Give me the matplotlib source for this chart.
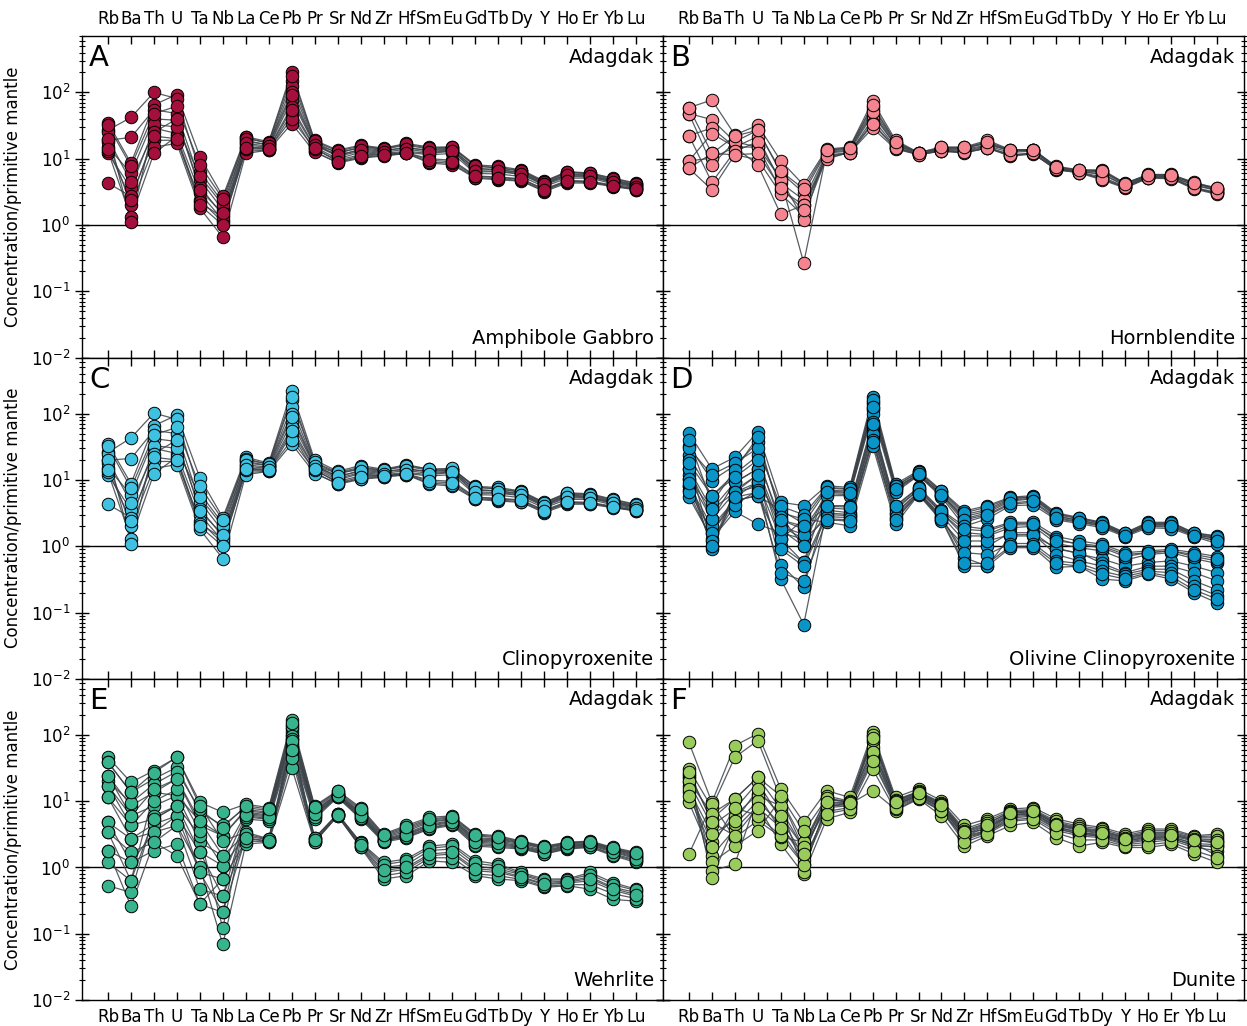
import numpy as np
import matplotlib
matplotlib.use('Agg')
import matplotlib.pyplot as plt
from matplotlib.ticker import LogLocator, NullFormatter

elements = ['Rb', 'Ba', 'Th', 'U', 'Ta', 'Nb', 'La', 'Ce', 'Pb', 'Pr', 'Sr', 'Nd',
            'Zr', 'Hf', 'Sm', 'Eu', 'Gd', 'Tb', 'Dy', 'Y', 'Ho', 'Er', 'Yb', 'Lu']

# Panel A: Amphibole Gabbro
amph_gabbro = [
    [35, 8.6, 65, 93, 10.8, 2.7, 21.6, 18, 205, 19, 13.5, 16, 14.5, 17, 15, 15, 8.1, 7.7, 6.8, 4.6, 6.4, 6.1, 5.1, 4.3],
    [27, 42, 100, 81, 6.4, 2.2, 21, 17, 150, 18, 12, 15, 14, 16, 14, 14.5, 7.8, 7.2, 6.5, 4.4, 6.2, 5.9, 4.8, 4.1],
    [19, 21, 55, 48, 4.8, 1.7, 19, 16, 124, 17, 11, 14, 13, 15, 13, 13.5, 7.2, 6.8, 6.1, 4.2, 5.8, 5.5, 4.6, 3.9],
    [15, 6, 40, 38, 3.8, 1.4, 16, 15, 77, 16, 10.9, 13, 12, 13, 12, 13, 6.3, 6.4, 5.8, 4.0, 5.4, 5.3, 4.4, 3.7],
    [12, 3.6, 29, 24, 3, 1.2, 15, 14.5, 61, 15, 10, 12.5, 11.5, 12.5, 11.5, 12, 6.0, 5.9, 5.4, 3.8, 5.1, 5.1, 4.2, 3.6],
    [4.3, 2.7, 19, 19, 2.4, 1.1, 13, 13.5, 48, 13, 8.6, 10.2, 11, 12, 8.6, 8.1, 5.1, 4.8, 4.6, 3.2, 4.3, 4.3, 3.8, 3.4],
    [18, 2, 15, 17, 1.8, 0.65, 12, 13.5, 34, 12.5, 8.8, 10.5, 11.2, 12, 9, 8.5, 5.2, 5.0, 4.7, 3.3, 4.5, 4.4, 3.9, 3.4],
    [13, 1.3, 12, 22, 2.2, 1.3, 14, 14, 40, 14, 9.5, 11.5, 11.8, 12.3, 10, 9.5, 5.5, 5.3, 5.0, 3.5, 4.7, 4.6, 4.0, 3.5],
    [25, 1.1, 33, 30, 5.5, 2.0, 18, 16.5, 100, 16.5, 12.5, 14.5, 13.5, 14.5, 13.5, 14, 7.0, 6.9, 6.2, 4.3, 5.9, 5.7, 4.7, 4.0],
    [32, 7.7, 48, 62, 8, 2.5, 20, 17.5, 180, 18.5, 13, 15.5, 14.2, 16.5, 14.5, 15, 7.7, 7.4, 6.6, 4.5, 6.3, 6.0, 5.0, 4.2],
    [20, 4.5, 25, 40, 3.4, 1.5, 17, 15.5, 90, 16, 11.5, 13.5, 12.5, 14, 12.5, 13.2, 6.6, 6.5, 5.9, 4.1, 5.6, 5.4, 4.5, 3.8],
    [14, 2.4, 22, 20, 2.0, 1.0, 14.5, 14.2, 55, 14.5, 9, 11, 11.5, 12.2, 9.5, 9, 5.4, 5.2, 4.9, 3.4, 4.6, 4.5, 3.9, 3.5],
]

# Panel B: Hornblendite
hornblendite = [
    [59, 77, 22.9, 32, 9.3, 4, 14, 15, 74, 19, 12.4, 15, 15, 19, 13.7, 13.7, 7.7, 6.8, 6.8, 4.3, 5.8, 5.8, 4.4, 3.6],
    [48, 39, 18, 27, 6.2, 3.05, 13, 14, 54, 17, 12, 14.5, 14.5, 17, 13, 13.5, 7.3, 6.6, 6.3, 4.1, 5.6, 5.6, 4.2, 3.5],
    [22.4, 29, 15, 21.6, 4.3, 2.4, 12.2, 13, 46, 16, 12.4, 14, 14, 16, 13.5, 13.7, 7.0, 6.5, 5.8, 4.0, 5.5, 5.4, 4.0, 3.4],
    [9.3, 24, 15, 15, 3.4, 2.0, 11.5, 12.2, 40, 15, 11.8, 13, 12.5, 14.5, 11.5, 12, 6.8, 6.2, 5.0, 3.7, 5.2, 5.2, 3.6, 3.0],
    [7.2, 12, 11.5, 9.7, 2.95, 1.36, 10.5, 12.2, 29, 14, 11.5, 13, 12.2, 14.5, 10.9, 11.8, 6.9, 6.1, 4.8, 3.6, 5.1, 5.0, 3.5, 2.9],
    [9.3, 10.2, 15, 8.1, 1.45, 2.0, 9.9, 12.5, 35, 14.5, 11.8, 13.5, 13, 15, 11.5, 12, 7.1, 6.3, 5.3, 3.8, 5.3, 5.3, 3.7, 3.1],
    [48, 8.1, 18, 15, 5.0, 1.2, 13.5, 14.5, 60, 17.5, 12.2, 14.5, 14.5, 17.5, 13.2, 13.5, 7.4, 6.7, 6.5, 4.2, 5.7, 5.7, 4.3, 3.5],
    [22.4, 4.4, 13, 18, 4.8, 0.27, 12.5, 13.5, 50, 16, 11.8, 13.8, 13.5, 15.5, 12.5, 13, 7.1, 6.4, 5.9, 3.9, 5.4, 5.4, 4.0, 3.3],
    [7.2, 3.4, 11.5, 12, 3.6, 1.7, 11, 12.2, 33, 14.5, 11.5, 13.2, 12.5, 14.5, 11.2, 12, 6.9, 6.2, 5.0, 3.7, 5.2, 5.1, 3.6, 3.0],
    [59, 12, 22, 27, 6.5, 3.5, 13.5, 14.5, 65, 18, 12.4, 14.8, 14.8, 18, 13.5, 13.7, 7.5, 6.7, 6.6, 4.2, 5.7, 5.7, 4.3, 3.6],
]

# Panel C: Clinopyroxenite
clinopyroxenite = [
    [35, 8.8, 66, 95, 10.8, 2.7, 22, 18, 220, 20, 13.5, 16.5, 14.5, 17, 14.5, 14.5, 8.0, 7.7, 6.8, 4.6, 6.4, 6.2, 5.1, 4.3],
    [26, 43, 102, 82, 6.3, 2.2, 21, 17, 160, 18, 12.5, 15, 14, 16, 14, 14, 7.8, 7.3, 6.5, 4.4, 6.1, 5.9, 4.8, 4.1],
    [20, 21, 56, 50, 4.7, 1.7, 19, 16.5, 125, 17, 11, 14, 13, 15, 13, 13.5, 7.2, 6.8, 6.1, 4.2, 5.8, 5.5, 4.6, 3.9],
    [15, 6, 42, 38, 3.7, 1.4, 16, 15, 75, 16, 10.5, 13, 12, 13, 12, 13, 6.3, 6.3, 5.8, 4.0, 5.4, 5.3, 4.4, 3.7],
    [12, 3.5, 30, 25, 3, 1.2, 15, 14.5, 62, 15, 10, 12.5, 11.5, 12.5, 11.5, 12, 6.0, 5.9, 5.4, 3.8, 5.1, 5.1, 4.2, 3.6],
    [4.3, 2.7, 19, 19, 2.4, 1.1, 13, 13.5, 50, 13, 8.6, 10.2, 11, 12, 8.6, 8.1, 5.1, 4.8, 4.6, 3.2, 4.3, 4.3, 3.8, 3.4],
    [18, 2, 15, 17, 1.8, 0.65, 12, 13.5, 35, 12.5, 8.8, 10.5, 11.2, 12, 9, 8.5, 5.2, 5.0, 4.7, 3.3, 4.5, 4.4, 3.9, 3.4],
    [13, 1.3, 12.5, 22, 2.2, 1.3, 14, 14, 40, 14, 9.5, 11.5, 11.8, 12.3, 10, 9.5, 5.5, 5.3, 5.0, 3.5, 4.7, 4.6, 4.0, 3.5],
    [25, 1.1, 33, 30, 5.5, 2.0, 18, 16.5, 100, 16.5, 12.5, 14.5, 13.5, 14.5, 13.5, 14, 7.0, 6.9, 6.2, 4.3, 5.9, 5.7, 4.7, 4.0],
    [32, 7.5, 48, 62, 8, 2.5, 20, 17.5, 180, 18.5, 13, 15.5, 14.2, 16.5, 14.5, 15, 7.7, 7.4, 6.6, 4.5, 6.3, 6.0, 5.0, 4.2],
    [20, 4.5, 25, 40, 3.4, 1.5, 17, 15.5, 90, 16, 11.5, 13.5, 12.5, 14, 12.5, 13.2, 6.6, 6.5, 5.9, 4.1, 5.6, 5.4, 4.5, 3.8],
    [14, 2.4, 22, 20, 2.0, 1.0, 14.5, 14.2, 55, 14.5, 9, 11, 11.5, 12.2, 9.5, 9, 5.4, 5.2, 4.9, 3.4, 4.6, 4.5, 3.9, 3.5],
]

# Panel D: Olivine Clinopyroxenite
ol_clinopyroxenite = [
    [51, 14.7, 22, 53, 4.6, 4.1, 8.2, 7.7, 180, 8.7, 13.8, 6.9, 3.4, 4.1, 5.5, 5.8, 3.2, 2.7, 2.3, 1.6, 2.3, 2.3, 1.6, 1.43],
    [33, 9.8, 16.5, 37, 3.2, 2.56, 7.5, 7.2, 150, 8.2, 13, 6.5, 3.0, 3.6, 5.2, 5.5, 3.0, 2.6, 2.2, 1.55, 2.2, 2.2, 1.55, 1.35],
    [23.4, 5.8, 12.3, 23.4, 2.03, 1.28, 6.8, 6.5, 120, 7.7, 12, 6.2, 2.6, 3.2, 4.8, 5.2, 2.8, 2.5, 2.1, 1.5, 2.1, 2.1, 1.5, 1.3],
    [14.7, 3.6, 9.2, 14.7, 1.28, 0.57, 6.2, 6.0, 112, 7.0, 11.7, 5.8, 2.3, 2.9, 4.3, 4.6, 2.6, 2.3, 2.0, 1.45, 2.0, 1.95, 1.45, 1.2],
    [10.4, 2.56, 6.5, 9.2, 2.5, 1.8, 5.8, 5.8, 100, 6.5, 11.7, 5.5, 2.0, 2.6, 4.1, 4.2, 2.5, 2.2, 1.9, 1.4, 1.9, 1.85, 1.4, 1.1],
    [8.2, 1.6, 4.9, 5.8, 3.5, 2.2, 7.0, 6.8, 140, 7.5, 12.5, 6.0, 2.8, 3.4, 5.0, 5.3, 2.9, 2.4, 2.15, 1.5, 2.15, 2.1, 1.5, 1.3],
    [30, 12, 18, 30, 4.0, 3.0, 7.8, 7.3, 160, 8.0, 13.3, 6.7, 3.2, 3.9, 5.3, 5.6, 3.1, 2.65, 2.25, 1.58, 2.25, 2.25, 1.58, 1.4],
    [40, 4.5, 14, 45, 2.8, 1.0, 6.5, 6.3, 125, 7.2, 12.2, 6.0, 2.5, 3.0, 4.5, 4.8, 2.7, 2.35, 2.05, 1.45, 2.05, 2.0, 1.45, 1.2],
    [20, 1.0, 7, 12, 0.53, 0.24, 4.1, 4.1, 75, 4.1, 7.7, 3.5, 2.0, 1.8, 2.3, 2.3, 1.4, 1.2, 1.07, 0.8, 0.85, 0.9, 0.8, 0.7],
    [12, 0.9, 6.5, 8, 0.32, 0.066, 3.5, 3.2, 60, 3.5, 7.2, 3.2, 1.43, 1.43, 1.9, 2.0, 1.1, 0.95, 0.85, 0.62, 0.75, 0.8, 0.65, 0.55],
    [8.2, 2.0, 4.9, 5.8, 1.0, 0.57, 3.0, 2.9, 55, 3.05, 6.5, 2.8, 0.67, 0.5, 1.43, 1.43, 0.95, 0.76, 0.64, 0.5, 0.57, 0.6, 0.5, 0.4],
    [5.5, 1.3, 3.35, 2.15, 1.6, 1.28, 2.6, 2.5, 45, 2.6, 6.1, 2.5, 0.5, 0.5, 0.95, 0.95, 0.48, 0.5, 0.32, 0.3, 0.38, 0.32, 0.2, 0.14],
    [14.7, 2.56, 9.2, 14.7, 2.0, 1.5, 3.8, 3.6, 65, 3.8, 7.0, 3.2, 1.6, 1.5, 2.1, 2.1, 1.3, 1.05, 0.95, 0.7, 0.8, 0.85, 0.7, 0.6],
    [7, 1.6, 5.5, 9.2, 1.28, 2.56, 2.3, 2.03, 33, 2.15, 6.0, 2.4, 1.0, 1.0, 1.6, 1.6, 0.9, 0.8, 0.55, 0.4, 0.5, 0.5, 0.4, 0.3],
    [10.4, 3.6, 6.5, 12, 1.8, 1.0, 3.2, 3.0, 50, 3.2, 6.6, 2.9, 1.2, 1.2, 1.5, 1.5, 0.75, 0.6, 0.5, 0.38, 0.45, 0.45, 0.3, 0.22],
    [6.5, 1.2, 4.2, 7, 0.9, 0.5, 2.8, 2.7, 40, 2.8, 6.3, 2.7, 0.8, 0.75, 1.1, 1.1, 0.6, 0.55, 0.42, 0.35, 0.42, 0.4, 0.25, 0.18],
    [18, 5.8, 11, 20, 2.5, 2.0, 4.0, 3.9, 70, 4.0, 7.5, 3.4, 1.8, 1.7, 2.2, 2.2, 1.2, 1.1, 1.0, 0.75, 0.8, 0.85, 0.75, 0.65],
    [9, 1.0, 5.5, 6.5, 0.4, 0.3, 2.5, 2.4, 38, 2.5, 6.2, 2.6, 0.55, 0.55, 1.0, 1.0, 0.55, 0.5, 0.38, 0.32, 0.4, 0.35, 0.22, 0.16],
]

# Panel E: Wehrlite
wehrlite = [
    [46, 19.2, 28.9, 46, 9.6, 6.8, 9, 8, 165, 8.5, 14.4, 8, 3.2, 4.3, 5.7, 6, 3.2, 3, 2.5, 2.1, 2.4, 2.5, 2, 1.69],
    [38.6, 13.6, 21.7, 32.5, 6.8, 4.3, 8, 7.2, 140, 7.8, 13.5, 7.2, 3.0, 3.9, 5.2, 5.6, 3.0, 2.8, 2.4, 2.0, 2.3, 2.4, 1.9, 1.6],
    [24.3, 8.5, 13.6, 21.7, 4.3, 3.0, 7.2, 6.5, 123, 7.0, 12.8, 6.6, 2.8, 3.5, 4.8, 5.3, 2.7, 2.6, 2.3, 1.9, 2.2, 2.3, 1.85, 1.5],
    [17.1, 6, 8.5, 12.1, 2.4, 1.5, 6.5, 6.0, 100, 6.5, 12.2, 6.2, 2.6, 3.2, 4.3, 5.0, 2.5, 2.4, 2.1, 1.75, 2.1, 2.2, 1.75, 1.4],
    [11.4, 4.3, 5.4, 8.5, 1.7, 1.06, 6.0, 5.5, 87, 6.0, 11.8, 5.8, 2.5, 3.0, 4.0, 4.6, 2.3, 2.2, 2.0, 1.65, 2.0, 2.1, 1.6, 1.3],
    [4.8, 2.7, 3.4, 6, 0.84, 0.67, 5.4, 5.0, 65, 5.4, 11.4, 5.4, 2.4, 2.8, 3.8, 4.3, 2.1, 2.0, 1.9, 1.59, 1.9, 2.0, 1.5, 1.19],
    [3.4, 1.7, 2.4, 4.3, 0.47, 0.37, 5.8, 5.3, 75, 5.8, 11.6, 5.6, 2.5, 2.9, 3.9, 4.5, 2.2, 2.1, 1.95, 1.6, 1.95, 2.05, 1.55, 1.25],
    [1.8, 1.19, 1.8, 2.25, 0.28, 0.21, 6.8, 6.2, 110, 6.8, 12.5, 6.4, 2.7, 3.3, 4.5, 5.1, 2.6, 2.5, 2.2, 1.8, 2.15, 2.25, 1.8, 1.45],
    [1.19, 0.63, 13.6, 12.1, 5.0, 3.0, 7.5, 6.8, 130, 7.3, 13.0, 6.8, 2.9, 3.7, 5.0, 5.4, 2.8, 2.7, 2.35, 1.95, 2.3, 2.35, 1.9, 1.55],
    [0.53, 0.42, 6.0, 8.5, 3.0, 0.12, 6.2, 5.8, 95, 6.3, 12.0, 6.0, 2.55, 3.1, 4.2, 4.8, 2.4, 2.3, 2.05, 1.7, 2.05, 2.15, 1.7, 1.35],
    [20, 9.5, 18, 28, 7.5, 4.0, 8.5, 7.6, 150, 8.2, 14, 7.6, 3.1, 4.1, 5.4, 5.8, 3.1, 2.9, 2.45, 2.05, 2.35, 2.45, 1.95, 1.65],
    [38.6, 13.6, 27, 46, 8.5, 2.5, 3.4, 2.7, 87, 2.8, 6.4, 2.4, 1.19, 1.34, 2.1, 2.25, 1.26, 1.12, 0.84, 0.67, 0.67, 0.84, 0.59, 0.47],
    [17.1, 4.3, 10, 15, 3.5, 1.06, 3.0, 2.6, 70, 2.7, 6.3, 2.3, 1.0, 1.1, 1.8, 1.9, 1.05, 0.95, 0.78, 0.6, 0.62, 0.72, 0.5, 0.42],
    [11.4, 2.7, 4.5, 6, 1.7, 0.37, 2.7, 2.5, 55, 2.5, 6.1, 2.1, 0.84, 0.94, 1.5, 1.6, 0.89, 0.84, 0.7, 0.55, 0.58, 0.63, 0.45, 0.37],
    [4.8, 1.19, 3.4, 4.3, 1.0, 0.069, 2.25, 2.4, 32, 2.4, 6.0, 2.0, 0.67, 0.75, 1.26, 1.19, 0.75, 0.67, 0.63, 0.5, 0.53, 0.47, 0.33, 0.31],
    [1.8, 0.26, 2.4, 1.5, 0.28, 0.67, 2.5, 2.45, 45, 2.45, 6.0, 2.05, 0.75, 0.85, 1.4, 1.4, 0.8, 0.75, 0.66, 0.52, 0.55, 0.55, 0.4, 0.34],
    [24.3, 6, 15, 21.7, 5, 1.5, 3.2, 2.65, 80, 2.75, 6.4, 2.35, 1.1, 1.25, 1.95, 2.1, 1.15, 1.05, 0.8, 0.64, 0.65, 0.78, 0.55, 0.45],
    [3.4, 0.63, 5.4, 8.5, 0.84, 0.21, 2.8, 2.5, 60, 2.6, 6.2, 2.2, 0.9, 1.0, 1.6, 1.7, 0.95, 0.9, 0.72, 0.57, 0.6, 0.68, 0.48, 0.39],
]

# Panel F: Dunite
dunite = [
    [77, 9.6, 69, 104, 15.3, 4.8, 14.4, 11.4, 110, 11.4, 15.3, 10.2, 4.3, 5.4, 7.6, 8, 5.4, 4.5, 4, 3.2, 3.8, 3.8, 3, 3.2],
    [30.6, 8, 46, 82, 10.8, 2.4, 10.8, 9.6, 95, 10, 13.5, 9, 3.5, 4.5, 7, 7.2, 4.8, 4, 3.6, 2.9, 3.4, 3.4, 2.8, 2.8],
    [24.3, 5.4, 10.8, 22.9, 7.6, 1.9, 8, 9.6, 77, 9, 12.1, 8, 3.0, 4.0, 6.0, 6.5, 4.3, 3.6, 3.2, 2.6, 3.0, 3.0, 2.5, 2.5],
    [19.2, 4.3, 7.6, 19.2, 5.4, 1.5, 10.8, 9.6, 60, 9.5, 12.5, 8.5, 3.3, 3.8, 6.5, 7.0, 4.5, 3.8, 3.4, 2.8, 3.2, 3.2, 2.6, 2.3],
    [13.6, 2.4, 6, 12.8, 3.6, 1.12, 8, 8.5, 43, 8.5, 11.5, 7.5, 2.6, 3.4, 5.2, 5.6, 3.6, 3.0, 2.8, 2.2, 2.4, 2.6, 2.0, 1.8],
    [9.6, 1.5, 3.8, 8.5, 2.25, 0.79, 5.4, 6.8, 30.6, 7.2, 10.8, 6, 2.1, 3.0, 4.3, 4.8, 2.8, 2.1, 2.4, 2.0, 2.0, 2.25, 1.6, 1.19],
    [1.59, 9, 2.8, 5.1, 2.9, 2.4, 9, 9, 14.4, 7.5, 11, 7, 2.8, 3.4, 5.5, 6, 3.8, 3.2, 3.0, 2.4, 2.7, 2.8, 2.1, 2.1],
    [22, 1.19, 2.1, 3.6, 10.8, 1.9, 12, 10, 100, 10.5, 14, 9.5, 3.8, 5.0, 7.2, 7.5, 5.0, 4.2, 3.8, 3.0, 3.6, 3.6, 2.9, 3.0],
    [17, 0.89, 1.12, 12, 8.5, 0.85, 9.5, 9.2, 65, 9.2, 13, 8.5, 3.2, 4.2, 6.2, 6.8, 4.0, 3.4, 3.0, 2.5, 2.9, 2.9, 2.3, 2.2],
    [26, 0.7, 4.5, 10, 4.5, 1.3, 7, 8, 50, 8.8, 12, 7.8, 2.9, 3.5, 5.8, 6.2, 3.9, 3.2, 2.9, 2.3, 2.6, 2.7, 2.2, 2.0],
    [20, 6.5, 10.8, 22.9, 12, 3.5, 11, 9.8, 85, 10.2, 13.8, 9.2, 3.6, 4.7, 6.8, 7.2, 4.6, 3.9, 3.5, 2.8, 3.3, 3.3, 2.7, 2.6],
    [15, 3.2, 5, 15, 6, 2.0, 8.5, 8.8, 55, 8.7, 12.3, 8, 3.0, 3.6, 6.2, 6.5, 4.1, 3.4, 3.1, 2.5, 2.8, 2.9, 2.3, 1.5],
    [12, 2.0, 8, 6, 3.0, 1.1, 6.5, 7.5, 40, 8, 11.2, 7.2, 2.4, 3.2, 5.0, 5.3, 3.3, 2.6, 2.6, 2.1, 2.2, 2.4, 1.8, 1.4],
    [28, 4.8, 3, 8, 4.0, 1.6, 9.8, 9.4, 90, 9.8, 13.2, 8.8, 3.4, 4.3, 6.6, 7.0, 4.4, 3.7, 3.3, 2.7, 3.1, 3.1, 2.6, 2.4],
]

panel_letters = ['A', 'B', 'C', 'D', 'E', 'F']
rock_names = ['Amphibole Gabbro', 'Hornblendite', 'Clinopyroxenite',
              'Olivine Clinopyroxenite', 'Wehrlite', 'Dunite']
panel_data = [amph_gabbro, hornblendite, clinopyroxenite,
              ol_clinopyroxenite, wehrlite, dunite]
panel_colors = ['#a50f3c', '#f4848f', '#3fc2e2', '#0a95c9', '#37b38d', '#9acb5d']

fig, axes = plt.subplots(3, 2, figsize=(12.47, 10.26), dpi=100, sharex=True, sharey=True)
fig.subplots_adjust(left=0.0658, right=0.9975, top=0.9645, bottom=0.0253,
                    wspace=0, hspace=0)

x = np.arange(len(elements))
for i, ax in enumerate(axes.flat):
    arr = np.array(panel_data[i], dtype=float)
    for row in arr:
        ax.plot(x, row, color='#3b4248', lw=0.9, alpha=0.85, zorder=2)
    for row in arr:
        ax.plot(x, row, linestyle='none', marker='o', ms=9,
                mfc=panel_colors[i], mec='black', mew=0.7, zorder=3)
    ax.axhline(1, color='black', lw=1.0, zorder=1)
    ax.set_yscale('log')
    ax.set_ylim(0.01, 700)
    ax.set_xlim(-1.13, 24.17)
    ax.set_xticks(x)
    ax.set_xticklabels(elements)
    ax.yaxis.set_major_locator(LogLocator(base=10, numticks=10))
    ax.yaxis.set_minor_locator(LogLocator(base=10, subs=np.arange(2, 10), numticks=20))
    ax.yaxis.set_minor_formatter(NullFormatter())
    ax.tick_params(axis='y', which='major', direction='inout', length=10, width=1,
                   left=True, right=True, labelsize=12)
    ax.tick_params(axis='y', which='minor', direction='inout', length=5, width=0.8,
                   left=True, right=True)
    ax.tick_params(axis='x', which='major', direction='in', length=6, width=1,
                   top=True, bottom=True, labelsize=12, pad=6)
    r, c = divmod(i, 2)
    ax.tick_params(axis='x', labeltop=(r == 0), labelbottom=(r == 2))
    ax.tick_params(axis='y', labelleft=(c == 0), labelright=False)
    if c == 0:
        ax.set_ylabel('Concentration/primitive mantle', fontsize=12, labelpad=6)
    ax.text(0.012, 0.975, panel_letters[i], transform=ax.transAxes,
            fontsize=21, ha='left', va='top')
    ax.text(0.985, 0.965, 'Adagdak', transform=ax.transAxes,
            fontsize=14, ha='right', va='top')
    ax.text(0.985, 0.03, rock_names[i], transform=ax.transAxes,
            fontsize=14, ha='right', va='bottom')
    for s in ax.spines.values():
        s.set_linewidth(1.0)

fig.savefig('out.png', dpi=100)
